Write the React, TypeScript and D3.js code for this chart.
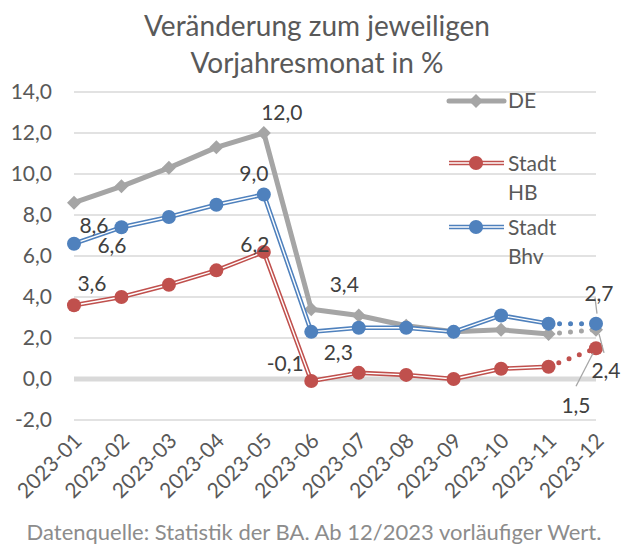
import React from "react";
import * as d3 from "d3";

// monthly change vs. same month of previous year, in %
const months = [
  "2023-01", "2023-02", "2023-03", "2023-04", "2023-05", "2023-06",
  "2023-07", "2023-08", "2023-09", "2023-10", "2023-11", "2023-12",
];
const deValues = [8.6, 9.4, 10.3, 11.3, 12.0, 3.4, 3.1, 2.6, 2.3, 2.4, 2.2, 2.4];
const hbValues = [3.6, 4.0, 4.6, 5.3, 6.2, -0.1, 0.3, 0.2, 0.0, 0.5, 0.6, 1.5];
const bhvValues = [6.6, 7.4, 7.9, 8.5, 9.0, 2.3, 2.5, 2.5, 2.3, 3.1, 2.7, 2.7];
const yTicks = [-2, 0, 2, 4, 6, 8, 10, 12, 14];
const seriesNames = ["DE", "Stadt HB", "Stadt Bhv"];

// which points carry a value label, and where the label sits relative to the point
const labelSpots = [
  { s: 0, i: 0, dx: 20, dy: 23 },
  { s: 2, i: 0, dx: 38, dy: 2 },
  { s: 1, i: 0, dx: 18, dy: -22 },
  { s: 0, i: 4, dx: 18, dy: -20 },
  { s: 2, i: 4, dx: -10, dy: -21 },
  { s: 1, i: 4, dx: -9, dy: -7 },
  { s: 0, i: 5, dx: 33, dy: -25 },
  { s: 2, i: 5, dx: 27, dy: 21 },
  { s: 1, i: 5, dx: -26, dy: -17 },
  { s: 2, i: 11, dx: 3, dy: -30, lead: [[1, -10], [-1, -26]] },
  { s: 0, i: 11, dx: 10, dy: 41, lead: [[3, 4], [8, 23]] },
  { s: 1, i: 11, dx: -20, dy: 57, lead: [[-3, 5], [-20, 38]] },
];

const font = "Lato, 'Open Sans', sans-serif";
const colors = ["#A5A5A5", "#C0504D", "#4F81BD"];

const fmt = (v: number) => v.toFixed(1).replace(".", ",");

export default function App() {
  const width = 621;
  const height = 545;
  const x = d3.scalePoint<string>().domain(months).range([74, 596]);
  const y = d3.scaleLinear().domain([-2, 14]).range([420, 92]);
  const all = [deValues, hbValues, bhvValues];

  const line = d3
    .line<number>()
    .x((_, i) => x(months[i]) as number)
    .y((d) => y(d));
  const solid = (vals: number[]) => line(vals.slice(0, 11)) as string;
  const dotted = (vals: number[]) =>
    `M${x(months[10])},${y(vals[10])}L${x(months[11])},${y(vals[11])}`;

  const diamond = (cx: number, cy: number, r = 7) =>
    `M${cx},${cy - r}L${cx + r},${cy}L${cx},${cy + r}L${cx - r},${cy}Z`;

  const doubleLine = (d: string, c: string, key: string) => (
    <g key={key}>
      <path d={d} fill="none" stroke={c} strokeWidth={4.5} strokeLinejoin="round" />
      <path d={d} fill="none" stroke="#fff" strokeWidth={1.4} strokeLinejoin="round" />
    </g>
  );

  const legendY = [101, 163, 227];

  return (
    <svg
      width={width}
      height={height}
      style={{ position: "absolute", left: 0, top: 0, background: "#fff" }}
      fontFamily={font}
    >
      {/* title */}
      <text x={317} y={36} textAnchor="middle" fontSize={28} fill="#595959">
        Veränderung zum jeweiligen
      </text>
      <text x={317} y={73} textAnchor="middle" fontSize={28} fill="#595959">
        Vorjahresmonat in %
      </text>

      {/* grid + y axis */}
      {yTicks.map((t) => (
        <g key={t}>
          <line
            x1={74}
            x2={596}
            y1={y(t)}
            y2={y(t)}
            stroke="#D9D9D9"
            strokeWidth={t === 0 ? 5 : 1.5}
          />
          <text x={52} y={y(t) + 7} textAnchor="end" fontSize={21} fill="#595959">
            {fmt(t)}
          </text>
        </g>
      ))}

      {/* x axis labels */}
      {months.map((m) => (
        <text
          key={m}
          transform={`translate(${(x(m) as number) + 4},${437}) rotate(-45)`}
          textAnchor="end"
          dy="0.35em"
          fontSize={21}
          fill="#595959"
        >
          {m}
        </text>
      ))}

      {/* legend */}
      <g>
        <line x1={449} x2={504} y1={legendY[0]} y2={legendY[0]} stroke={colors[0]} strokeWidth={5} strokeLinecap="round" />
        <path d={diamond(476, legendY[0])} fill={colors[0]} />
        {[1, 2].map((s) => (
          <g key={s}>
            {doubleLine(`M449,${legendY[s]}L504,${legendY[s]}`, colors[s], "l" + s)}
            <circle cx={476} cy={legendY[s]} r={7} fill={colors[s]} />
          </g>
        ))}
        <text x={508} y={108} fontSize={21} fill="#595959">{seriesNames[0]}</text>
        {[1, 2].map((s) =>
          seriesNames[s].split(" ").map((w, k) => (
            <text key={s + w} x={508} y={legendY[s] + 8 + k * 29} fontSize={21} fill="#595959">
              {w}
            </text>
          ))
        )}
      </g>

      {/* DE */}
      <path d={solid(deValues)} fill="none" stroke={colors[0]} strokeWidth={5} strokeLinejoin="round" />
      <path d={dotted(deValues)} fill="none" stroke={colors[0]} strokeWidth={5} strokeLinecap="round" strokeDasharray="0 11" />
      {deValues.map((v, i) => (
        <path key={i} d={diamond(x(months[i]) as number, y(v))} fill={colors[0]} />
      ))}

      {/* HB and Bhv */}
      {[1, 2].map((s) => (
        <g key={s}>
          {doubleLine(solid(all[s]), colors[s], "s" + s)}
          <path d={dotted(all[s])} fill="none" stroke={colors[s]} strokeWidth={5} strokeLinecap="round" strokeDasharray="0 11" />
          {all[s].map((v, i) => (
            <circle key={i} cx={x(months[i]) as number} cy={y(v)} r={7} fill={colors[s]} />
          ))}
        </g>
      ))}

      {/* value labels */}
      {labelSpots.map((l, k) => {
        const px = x(months[l.i]) as number;
        const py = y(all[l.s][l.i]);
        return (
          <g key={k}>
            {l.lead && (
              <line
                x1={px + l.lead[0][0]}
                y1={py + l.lead[0][1]}
                x2={px + l.lead[1][0]}
                y2={py + l.lead[1][1]}
                stroke="#A6A6A6"
                strokeWidth={1.3}
              />
            )}
            <text x={px + l.dx} y={py + l.dy} dy="0.35em" textAnchor="middle" fontSize={21} fill="#404040">
              {fmt(all[l.s][l.i])}
            </text>
          </g>
        );
      })}

      {/* footnote */}
      <text x={314} y={540} textAnchor="middle" fontSize={22} fill="#8C8C8C">
        Datenquelle: Statistik der BA. Ab 12/2023 vorläufiger Wert.
      </text>
    </svg>
  );
}
